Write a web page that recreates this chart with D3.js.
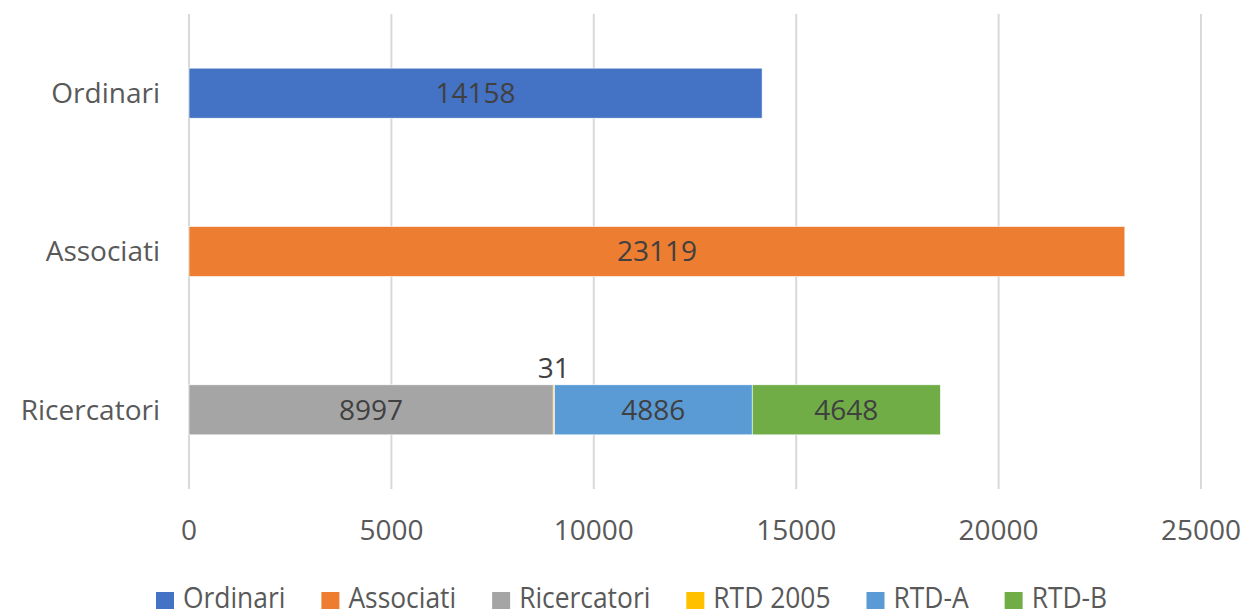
<!DOCTYPE html>
<html>
<head>
<meta charset="utf-8">
<script src="https://cdn.jsdelivr.net/npm/d3@7"></script>
<style>
  body { margin: 0; background: #fff; }
  svg text { font-family: "Open Sans", "Noto Sans", sans-serif; }
</style>
</head>
<body>
<svg id="chart" width="1248" height="616"></svg>
<script>
// --- DATA ---
const categories = ["Ordinari", "Associati", "Ricercatori"];
const seriesNames = ["Ordinari", "Associati", "Ricercatori", "RTD 2005", "RTD-A", "RTD-B"];
const seriesColors = ["#4472c4", "#ed7d31", "#a5a5a5", "#ffc000", "#5b9bd5", "#70ad47"];
// values per series, one per category (0 = no bar)
const ordinari    = [14158, 0, 0];
const associati   = [0, 23119, 0];
const ricercatori = [0, 0, 8997];
const rtd2005     = [0, 0, 31];
const rtdA        = [0, 0, 4886];
const rtdB        = [0, 0, 4648];
const xTicks = [0, 5000, 10000, 15000, 20000, 25000];

const seriesValues = [ordinari, associati, ricercatori, rtd2005, rtdA, rtdB];

const rows = categories.map((c, i) => {
    const r = { cat: c };
    seriesNames.forEach((s, j) => r[s] = seriesValues[j][i]);
    return r;
});

const svg = d3.select("#chart");
const margin = { left: 189, right: 47, top: 14, bottom: 127 };
const W = 1248, H = 616;

// --- SCALES ---
const x = d3.scaleLinear().domain([0, 25000]).range([margin.left, W - margin.right]);
const y = d3.scaleBand().domain(categories).range([margin.top, H - margin.bottom])
    .paddingInner(0.684).paddingOuter(0.342);
const color = d3.scaleOrdinal().domain(seriesNames).range(seriesColors);

// --- GRID ---
svg.append("g").selectAll("line").data(xTicks).join("line")
    .attr("x1", d => x(d)).attr("x2", d => x(d))
    .attr("y1", margin.top).attr("y2", H - margin.bottom)
    .attr("stroke", "#d9d9d9").attr("stroke-width", 2);

// --- X AXIS LABELS ---
svg.append("g").selectAll("text").data(xTicks).join("text")
    .attr("x", d => x(d)).attr("y", 540)
    .attr("text-anchor", "middle")
    .attr("fill", "#595959").style("font-size", "28px")
    .text(d => d);

// --- CATEGORY LABELS ---
svg.append("g").selectAll("text").data(categories).join("text")
    .attr("x", 160).attr("y", d => y(d) + y.bandwidth() / 2)
    .attr("dy", "0.35em").attr("text-anchor", "end")
    .attr("fill", "#595959").style("font-size", "28px")
    .text(d => d);

// --- STACKED BARS ---
const stack = d3.stack().keys(seriesNames)(rows);

const layers = svg.append("g").selectAll("g").data(stack).join("g")
    .attr("fill", d => color(d.key));

layers.selectAll("rect").data(d => d.filter(p => p[1] - p[0] > 0)).join("rect")
    .attr("x", p => x(p[0]))
    .attr("y", p => y(p.data.cat))
    .attr("width", p => x(p[1]) - x(p[0]))
    .attr("height", y.bandwidth())
    .attr("stroke", "#fff").attr("stroke-width", 0.6);

// --- DATA LABELS ---
const labels = svg.append("g");
stack.forEach(layer => {
    layer.filter(p => p[1] - p[0] > 0).forEach(p => {
        const v = p[1] - p[0];
        const cx = (x(p[0]) + x(p[1])) / 2;
        const small = (x(p[1]) - x(p[0])) < 40;
        labels.append("text")
            .attr("x", cx)
            .attr("y", small ? y(p.data.cat) - 7 : y(p.data.cat) + y.bandwidth() / 2)
            .attr("dy", small ? 0 : "0.35em")
            .attr("text-anchor", "middle")
            .attr("fill", "#404040").style("font-size", "28px")
            .text(v);
    });
});

// --- LEGEND ---
const legend = svg.append("g").attr("transform", "translate(156,0)");
let lx = 0;
seriesNames.forEach(s => {
    const g = legend.append("g").attr("transform", `translate(${lx},0)`);
    g.append("rect").attr("x", 0).attr("y", 592).attr("width", 18).attr("height", 17)
        .attr("fill", color(s));
    const t = g.append("text").attr("x", 0).attr("y", 608)
        .attr("fill", "#595959").style("font-size", "29px")
        .attr("transform", "translate(27,0) scale(0.91,1)")
        .text(s);
    lx += 27 + t.node().getComputedTextLength() * 0.91 + 36;
});
</script>
</body>
</html>
